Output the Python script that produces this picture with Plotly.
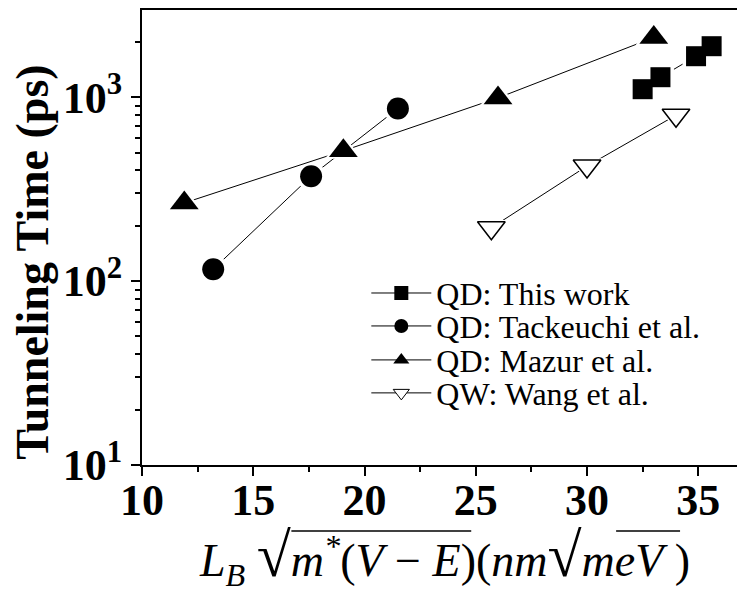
import plotly.graph_objects as go

# ---- data ----
this_x = [32.5, 33.3, 34.9, 35.6]
this_y = [1105, 1284, 1670, 1893]
tack_x = [13.2, 17.6, 21.5]
tack_y = [116, 372, 868]
mazur_x = [11.9, 19.05, 26.0, 33.0]
mazur_y = [266, 511, 991, 2110]
wang_x = [25.7, 30.0, 34.0]
wang_y = [195, 422, 798]

names = ["QD: This work", "QD: Tackeuchi et al.", "QD: Mazur et al.", "QW: Wang et al."]
xtick_vals = [10, 15, 20, 25, 30, 35]
ytick_vals = [10, 100, 1000]
ytick_text = ["10<sup>1</sup>", "10<sup>2</sup>", "10<sup>3</sup>"]

FONT = "Liberation Serif"
# page has an 8px body margin; figure sized/positioned to compensate
OFF = 8
W, H = 745 - OFF, 593 - OFF
PL, PT, PB = 141.5, 9.5, 465  # plot box in page (reference) pixels
plot_w = 745 - PL
plot_h = PB - PT


def px(xr):
    return (xr - PL) / plot_w


def py(yr):
    return (PB - yr) / plot_h


series = [
    dict(x=this_x, y=this_y, symbol="square", size=20, fill="black", lw=0, name=names[0]),
    dict(x=tack_x, y=tack_y, symbol="circle", size=22, fill="black", lw=0, name=names[1]),
    dict(x=mazur_x, y=mazur_y, symbol="triangle-up", size=25, fill="black", lw=0, name=names[2]),
    dict(x=wang_x, y=wang_y, symbol="triangle-down", size=24, fill="white", lw=1.5, name=names[3]),
]

fig = go.Figure()
legend_y_px = [293, 326, 360, 393]
for i, s in enumerate(series):
    fig.add_trace(go.Scatter(x=s["x"], y=s["y"], mode="lines",
                             line=dict(color="black", width=1), showlegend=False, hoverinfo="skip"))
    fig.add_trace(go.Scatter(x=s["x"], y=s["y"], mode="markers",
                             marker=dict(symbol=s["symbol"], size=s["size"] + 7, color="white",
                                         line=dict(width=0)),
                             showlegend=False, hoverinfo="skip"))
    fig.add_trace(go.Scatter(x=s["x"], y=s["y"], mode="markers",
                             marker=dict(symbol=s["symbol"], size=s["size"], color=s["fill"],
                                         line=dict(color="black", width=s["lw"])),
                             showlegend=False))
    leg = "legend" if i == 0 else f"legend{i+1}"
    fig.add_trace(go.Scatter(x=[None], y=[None], mode="lines+markers", name=s["name"],
                             line=dict(color="black", width=1),
                             marker=dict(symbol=s["symbol"], size=14, color=s["fill"],
                                         line=dict(color="black", width=1 if s["lw"] else 0)),
                             legend=leg, showlegend=True))

legend_common = dict(font=dict(family=FONT, size=32, color="black"), bgcolor="rgba(0,0,0,0)",
                     borderwidth=0, xanchor="left", yanchor="middle", itemwidth=60)
for i, yp in enumerate(legend_y_px):
    key = "legend" if i == 0 else f"legend{i+1}"
    fig.update_layout(**{key: dict(x=px(366), y=py(yp), **legend_common)})

fig.update_xaxes(range=[10, 37.1], tickvals=xtick_vals, ticks="outside", ticklen=9, tickwidth=2,
                 tickcolor="black", showline=True, linecolor="black", linewidth=2, mirror=True,
                 showgrid=False, zeroline=False, automargin=False, ticklabelstandoff=-14,
                 tickfont=dict(family=FONT, size=44, color="black", weight="bold"),
                 minor=dict(ticks="outside", ticklen=5, tickwidth=1.5, tickcolor="black",
                            tick0=10, dtick=2.5, showgrid=False))
fig.update_yaxes(type="log", range=[1, 3.474], tickvals=ytick_vals, ticktext=ytick_text,
                 ticks="outside", ticklen=9, tickwidth=2, tickcolor="black",
                 showline=True, linecolor="black", linewidth=2, mirror=False,
                 showgrid=False, zeroline=False, automargin=False,
                 tickfont=dict(family=FONT, size=44, color="black", weight="bold"),
                 minor=dict(ticks="outside", ticklen=5, tickwidth=1.5, tickcolor="black",
                            dtick="D1", showgrid=False))

RAD = "<span style='font-size:62px'>√</span>"
xtitle = (f"<i>L<sub>B</sub></i> {RAD}<i>m<sup>*</sup></i>(<i>V</i> − <i>E</i>)"
          f"(<i>nm</i>{RAD}<i>meV</i> )")

fig.add_annotation(text=xtitle, xref="paper", yref="paper", x=px(444),
                   y=py(557), xanchor="center", yanchor="middle", showarrow=False,
                   font=dict(family=FONT, size=46, color="black"))
fig.add_annotation(text="<b>Tunneling Time (ps)</b>", xref="paper", yref="paper",
                   x=px(32), y=py(262), textangle=-90,
                   xanchor="center", yanchor="middle", showarrow=False,
                   font=dict(family=FONT, size=46, color="black"))

# radical bars over the square-root arguments
for x0, x1, yb in [(291, 471, 531), (616, 680, 531)]:
    fig.add_shape(type="line", xref="paper", yref="paper", x0=px(x0), x1=px(x1), y0=py(yb), y1=py(yb),
                  line=dict(color="black", width=1.5))

fig.update_layout(width=W, height=H,
                  margin=dict(l=PL - OFF, r=0, t=PT - OFF, b=H - (PB - OFF), autoexpand=False),
                  font=dict(family=FONT, color="black"),
                  paper_bgcolor="white", plot_bgcolor="white")

fig.write_html("out.html")
